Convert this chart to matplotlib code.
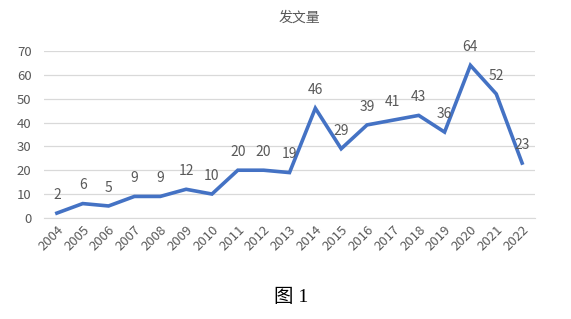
import matplotlib
matplotlib.use('Agg')
import matplotlib.pyplot as plt

plt.rcParams['font.family'] = ['Noto Sans CJK SC', 'DejaVu Sans']

# Data
years = ['2004', '2005', '2006', '2007', '2008', '2009', '2010', '2011', '2012', '2013',
         '2014', '2015', '2016', '2017', '2018', '2019', '2020', '2021', '2022']
counts = [2, 6, 5, 9, 9, 12, 10, 20, 20, 19, 46, 29, 39, 41, 43, 36, 64, 52, 23]

grey = '#595959'

fig = plt.figure(figsize=(5.71, 3.19), dpi=100)
ax = fig.add_axes([0.077, 0.317, 0.86, 0.523])

x = list(range(len(years)))
ax.plot(x, counts, color='#4472C4', linewidth=2.6, solid_joinstyle='miter')

# value labels above each point
for xi, v in zip(x, counts):
    ax.annotate(str(v), (xi, v), xytext=(0, 8), textcoords='offset points',
                ha='center', va='bottom', fontsize=10, color=grey)

ax.set_xlim(-0.5, len(years) - 0.5)
ax.set_ylim(0, 70)
ax.set_yticks(range(0, 71, 10))
ax.set_xticks(x)
ax.set_xticklabels(years, rotation=45, ha='right', rotation_mode='anchor')
ax.tick_params(axis='both', length=0, labelsize=9.5, colors=grey)
ax.tick_params(axis='y', pad=9)
ax.tick_params(axis='x', pad=4)
ax.grid(axis='y', color='#D9D9D9', linewidth=0.9)
ax.set_axisbelow(True)
for s in ['top', 'right', 'left']:
    ax.spines[s].set_visible(False)
ax.spines['bottom'].set_color('#D9D9D9')

fig.text(0.525, 0.945, '发文量', ha='center', va='center', fontsize=10, color=grey)
fig.text(0.51, 0.068, '图 1', ha='center', va='center', fontsize=14, color='black',
         family=['Liberation Serif', 'Noto Sans CJK SC'])

fig.savefig('out.png', dpi=100)
